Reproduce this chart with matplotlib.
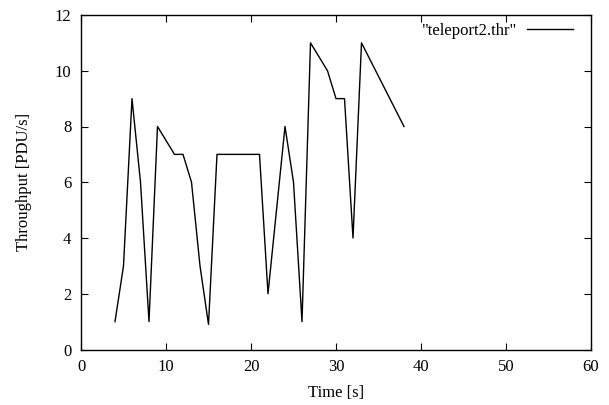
import matplotlib
matplotlib.use("Agg")
import matplotlib.pyplot as plt

plt.rcParams['font.family'] = ['Liberation Serif', 'DejaVu Serif']

time_s = [4, 5, 6, 7, 8, 9, 10, 11, 12, 13, 14, 15, 16, 21, 22, 24, 25, 26, 27, 29, 30, 31, 32, 33, 38]
throughput = [1, 3, 9, 6, 1, 8, 7.5, 7, 7, 6, 3, 0.9, 7, 7, 2, 8, 6, 1, 11, 10, 9, 9, 4, 11, 8]
series_label = '"teleport2.thr"'
x_ticks = [0, 10, 20, 30, 40, 50, 60]
y_ticks = [0, 2, 4, 6, 8, 10, 12]

fs = 12
fig = plt.figure(figsize=(6.09, 4.05), dpi=100)
ax = fig.add_axes([81/609, 1 - 349.5/405, (591-81)/609, (349.5-15)/405])

ax.plot(time_s, throughput, color='black', lw=1.0, label=series_label)

ax.set_xlim(0, 60)
ax.set_ylim(0, 12)
ax.set_xticks(x_ticks)
ax.set_yticks(y_ticks)
ax.tick_params(direction='in', length=5, width=0.8, top=True, right=True,
               labelsize=fs, pad=7)
for s in ax.spines.values():
    s.set_linewidth(1.0)

ax.set_xlabel('Time [s]', fontsize=fs, labelpad=7)
ax.set_ylabel('Throughput [PDU/s]', fontsize=fs, labelpad=16)

ax.legend(loc='upper right', frameon=False, markerfirst=False, fontsize=fs,
          handlelength=2.76, handletextpad=0.6, borderaxespad=0, borderpad=0,
          bbox_to_anchor=(573/609, 1 - 23/405), bbox_transform=fig.transFigure)

fig.savefig('out.png', dpi=100)
